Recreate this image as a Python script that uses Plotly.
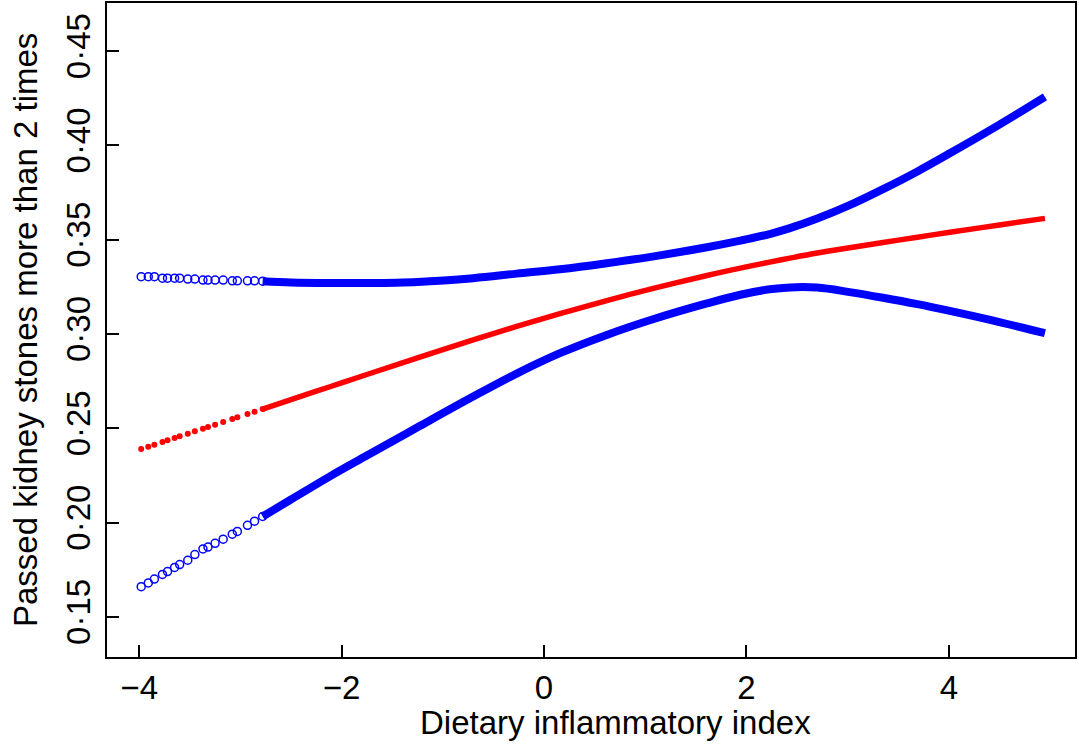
import plotly.graph_objects as go

# ---- data ----
# sparse region (individual markers)
x_sparse = [-3.98, -3.91, -3.85, -3.77, -3.72, -3.65, -3.60, -3.52, -3.45,
            -3.37, -3.32, -3.25, -3.17, -3.08, -3.03, -2.93, -2.86, -2.78]
upper_sparse = [0.3304, 0.3304, 0.3304, 0.3296, 0.3296, 0.3296, 0.3296, 0.3291, 0.3291,
                0.3286, 0.3286, 0.3286, 0.3286, 0.3282, 0.3282, 0.3282, 0.3282, 0.3280]
fit_sparse = [0.2390, 0.2402, 0.2413, 0.2427, 0.2436, 0.2448, 0.2457, 0.2471, 0.2484,
              0.2498, 0.2507, 0.2519, 0.2533, 0.2549, 0.2558, 0.2576, 0.2588, 0.2602]
lower_sparse = [0.1660, 0.1680, 0.1700, 0.1725, 0.1740, 0.1762, 0.1777, 0.1800, 0.1830,
                0.1860, 0.1870, 0.1890, 0.1912, 0.1938, 0.1953, 0.1985, 0.2007, 0.2032]

# dense region (points overlap into a continuous band)
x_dense = [-2.78, -2.5, -2.115, -1.75, -1.25, -0.70, -0.27, 0.158, 0.62, 1.1,
           1.61, 1.94, 2.23, 2.43, 2.70, 3.02, 3.35, 3.69, 4.01, 4.5, 4.95]
upper_dense = [0.3280, 0.3273, 0.3270, 0.3270, 0.3276, 0.3296, 0.3320, 0.3343, 0.3375, 0.3413,
               0.3460, 0.3495, 0.3530, 0.3561, 0.3612, 0.3683, 0.3768, 0.3862, 0.3958, 0.4110, 0.4257]
fit_dense = [0.2602, 0.2652, 0.2720, 0.2785, 0.2873, 0.2968, 0.3040, 0.3108, 0.3177, 0.3244,
             0.3310, 0.3349, 0.3381, 0.3402, 0.3429, 0.3457, 0.3485, 0.3513, 0.3539, 0.3578, 0.3613]
lower_dense = [0.2032, 0.2122, 0.2245, 0.2355, 0.2505, 0.2668, 0.2790, 0.2898, 0.2995, 0.3082,
               0.3162, 0.3208, 0.3237, 0.3247, 0.3246, 0.3222, 0.3192, 0.3158, 0.3122, 0.3063, 0.3004]

x_ticks = [-4, -2, 0, 2, 4]
x_ticktext = ["\u22124", "\u22122", "0", "2", "4"]
y_ticks = [0.15, 0.20, 0.25, 0.30, 0.35, 0.40, 0.45]
y_ticktext = ["0\u00b715", "0\u00b720", "0\u00b725", "0\u00b730", "0\u00b735", "0\u00b740", "0\u00b745"]

BLUE = "rgb(0,0,255)"
RED = "rgb(255,0,0)"
FONT = "Liberation Sans, Arial, sans-serif"

fig = go.Figure()

for yd in (upper_dense, lower_dense):
    fig.add_trace(go.Scatter(x=x_dense, y=yd, mode="lines",
                             line=dict(color=BLUE, width=8, shape="spline", smoothing=1.0),
                             hoverinfo="skip", showlegend=False))
for ys in (upper_sparse, lower_sparse):
    fig.add_trace(go.Scatter(x=x_sparse, y=ys, mode="markers",
                             marker=dict(symbol="circle-open", size=8, color=BLUE,
                                         line=dict(width=1.5, color=BLUE)),
                             showlegend=False))

fig.add_trace(go.Scatter(x=x_dense, y=fit_dense, mode="lines",
                         line=dict(color=RED, width=5.5, shape="spline", smoothing=1.0),
                         hoverinfo="skip", showlegend=False))
fig.add_trace(go.Scatter(x=x_sparse, y=fit_sparse, mode="markers",
                         marker=dict(symbol="circle", size=6, color=RED),
                         showlegend=False))

axis_common = dict(showgrid=False, zeroline=False, showline=True, mirror=True,
                   linecolor="black", linewidth=1.8, ticks="inside", ticklen=12,
                   tickwidth=1.8, tickcolor="black", automargin=False,
                   tickfont=dict(family=FONT, size=33, color="black"))

fig.update_layout(
    width=1079, height=745,
    margin=dict(l=107, r=4, t=3, b=88),
    paper_bgcolor="white", plot_bgcolor="white",
    xaxis=dict(range=[-4.318, 5.247], tickvals=x_ticks, ticktext=x_ticktext,
               ticklabelstandoff=0, **axis_common),
    yaxis=dict(range=[0.1287, 0.4755], tickvals=y_ticks, ticktext=y_ticktext,
               tickangle=-90, ticklabelstandoff=2, **axis_common),
    annotations=[
        dict(text="Dietary inflammatory index", xref="paper", yref="paper",
             x=(615 - 107) / 968, y=(657 - 722) / 654, showarrow=False,
             xanchor="center", yanchor="middle",
             font=dict(family=FONT, size=33, color="black")),
        dict(text="Passed kidney stones more than 2 times", xref="paper", yref="paper",
             x=(25 - 107) / 968, y=(657 - 330) / 654, showarrow=False, textangle=-90,
             xanchor="center", yanchor="middle",
             font=dict(family=FONT, size=33, color="black")),
    ],
)

fig.write_html("out.html", config={"displayModeBar": False},
               post_script="document.body.style.margin='0';")
